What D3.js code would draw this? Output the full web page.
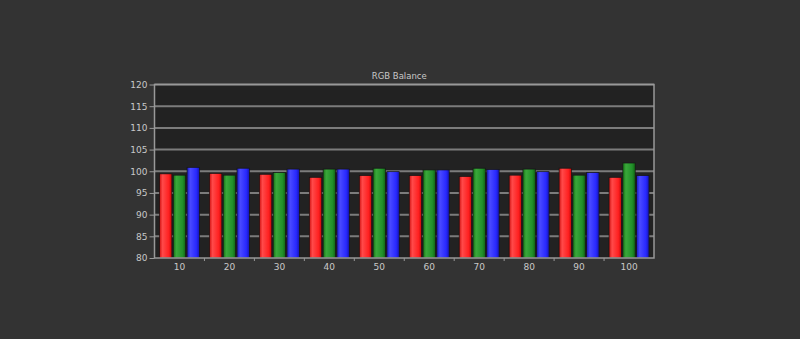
<!DOCTYPE html>
<html>
<head>
<meta charset="utf-8">
<script src="https://cdn.jsdelivr.net/npm/d3@7"></script>
<style>
    body { margin: 0; background: #333333; }
    svg { display: block; }
    text { font-family: "DejaVu Sans", sans-serif; }
</style>
</head>
<body>
<div id="chart"></div>
<script>
// 数据
const categories = ['10', '20', '30', '40', '50', '60', '70', '80', '90', '100'];
const redValues = [99.4, 99.5, 99.3, 98.6, 99.0, 99.0, 98.8, 99.1, 100.7, 98.6];
const greenValues = [99.1, 99.1, 99.7, 100.5, 100.7, 100.3, 100.7, 100.5, 99.1, 101.9];
const blueValues = [100.9, 100.7, 100.5, 100.5, 99.9, 100.3, 100.4, 99.9, 99.7, 99.0];
const yTicks = [80, 85, 90, 95, 100, 105, 110, 115, 120];
const seriesNames = ['Red', 'Green', 'Blue'];

const width = 800, height = 339;
const margin = { top: 84.5, right: 146, bottom: 81, left: 154.5 };
const innerW = width - margin.left - margin.right;
const innerH = height - margin.top - margin.bottom;

const svg = d3.select('#chart').append('svg')
    .attr('width', width).attr('height', height);

svg.append('rect').attr('width', width).attr('height', height).attr('fill', '#333333');

// 渐变
const defs = svg.append('defs');
const gradColors = {
    Red: ['#d01010', '#ff4a4a', '#ff2020', '#c00808'],
    Green: ['#157015', '#3aa83a', '#22902a', '#126512'],
    Blue: ['#1818c0', '#4a4aff', '#2828ff', '#1414b0']
};
seriesNames.forEach(name => {
    const grad = defs.append('linearGradient').attr('id', 'grad' + name)
        .attr('x1', '0%').attr('x2', '100%').attr('y1', '0%').attr('y2', '0%');
    const c = gradColors[name];
    grad.append('stop').attr('offset', '0%').attr('stop-color', c[0]);
    grad.append('stop').attr('offset', '25%').attr('stop-color', c[1]);
    grad.append('stop').attr('offset', '75%').attr('stop-color', c[2]);
    grad.append('stop').attr('offset', '100%').attr('stop-color', c[3]);
});

const x = d3.scaleBand().domain(categories).range([0, innerW]).paddingInner(0.2).paddingOuter(0.1);
const xSub = d3.scaleBand().domain(seriesNames).range([0, x.bandwidth()]).paddingInner(0.1);
const y = d3.scaleLinear().domain([80, 120]).range([innerH, 0]);

const g = svg.append('g').attr('transform', `translate(${margin.left},${margin.top})`);

// 绘图区背景
g.append('rect').attr('width', innerW).attr('height', innerH).attr('fill', '#222222');

// 网格线
g.append('g').selectAll('line').data(yTicks.slice(1)).enter().append('line')
    .attr('x1', 0).attr('x2', innerW)
    .attr('y1', d => y(d)).attr('y2', d => y(d))
    .attr('stroke', '#7c7c7c').attr('stroke-width', 2);

// 柱子
const data = categories.map((c, i) => ({
    cat: c,
    vals: [
        { name: 'Red', v: redValues[i] },
        { name: 'Green', v: greenValues[i] },
        { name: 'Blue', v: blueValues[i] }
    ]
}));
const groups = g.append('g').selectAll('g').data(data).enter().append('g')
    .attr('transform', d => `translate(${x(d.cat)},0)`);
groups.selectAll('rect').data(d => d.vals).enter().append('rect')
    .attr('x', d => xSub(d.name))
    .attr('width', xSub.bandwidth())
    .attr('y', d => y(d.v))
    .attr('height', d => innerH - y(d.v))
    .attr('fill', d => 'url(#grad' + d.name + ')')
    .attr('stroke', '#151515').attr('stroke-width', 0.7);

// 边框
g.append('rect').attr('width', innerW).attr('height', innerH)
    .attr('fill', 'none').attr('stroke', '#999999').attr('stroke-width', 1.5);

// Y轴
const yAxis = g.append('g').call(d3.axisLeft(y).tickValues(yTicks).tickSize(5).tickPadding(2));
yAxis.select('.domain').remove();
yAxis.selectAll('line').attr('stroke', '#999999');
yAxis.selectAll('text').attr('fill', '#c8c8c8').style('font-size', '9px');

// X轴
const xAxis = g.append('g').attr('transform', `translate(0,${innerH})`)
    .call(d3.axisBottom(x).tickSize(0).tickPadding(6));
xAxis.select('.domain').remove();
xAxis.selectAll('text').attr('fill', '#c8c8c8').style('font-size', '9px');
const step = innerW / categories.length;
g.append('g').selectAll('line').data(d3.range(1, categories.length)).enter().append('line')
    .attr('x1', d => d * step).attr('x2', d => d * step)
    .attr('y1', innerH).attr('y2', innerH + 3)
    .attr('stroke', '#999999');

// 标题
svg.append('text').attr('x', margin.left + innerW / 2 - 5).attr('y', 79)
    .attr('text-anchor', 'middle').attr('fill', '#c8c8c8').style('font-size', '8.5px')
    .text('RGB Balance');
</script>
</body>
</html>
